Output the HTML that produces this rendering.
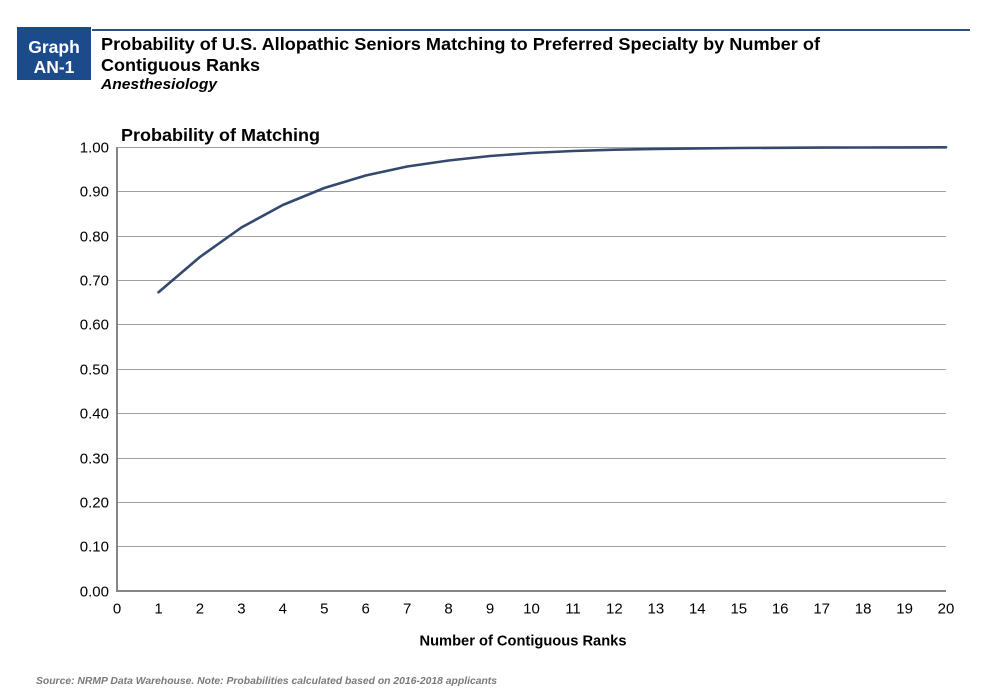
<!DOCTYPE html>
<html>
<head>
<meta charset="utf-8">
<style>
html,body{margin:0;padding:0;background:#fff;}
svg{display:block;}
text{font-family:"Liberation Sans",Arial,sans-serif;}
</style>
</head>
<body>
<svg width="1000" height="690" viewBox="0 0 1000 690" xmlns="http://www.w3.org/2000/svg">
  <rect x="0" y="0" width="1000" height="690" fill="#fff"/>
  <!-- header -->
  <rect x="17" y="27" width="74" height="53" fill="#1c4b8c"/>
  <text x="54" y="53" fill="#fff" font-size="17.5" font-weight="bold" text-anchor="middle">Graph</text>
  <text x="54" y="73" fill="#fff" font-size="17.5" font-weight="bold" text-anchor="middle">AN-1</text>
  <line x1="92" y1="30" x2="970" y2="30" stroke="#2d4f82" stroke-width="2"/>
  <text x="101" y="50" fill="#000" font-size="17.5" font-weight="bold" textLength="719" lengthAdjust="spacingAndGlyphs">Probability of U.S. Allopathic Seniors Matching to Preferred Specialty by Number of</text>
  <text x="101" y="71" fill="#000" font-size="17.5" font-weight="bold" textLength="159" lengthAdjust="spacingAndGlyphs">Contiguous Ranks</text>
  <text x="101" y="89" fill="#000" font-size="15" font-weight="bold" font-style="italic" textLength="116" lengthAdjust="spacingAndGlyphs">Anesthesiology</text>

  <text x="121" y="141" fill="#000" font-size="17.5" font-weight="bold" textLength="199" lengthAdjust="spacingAndGlyphs">Probability of Matching</text>

  <!-- gridlines -->
  <g stroke="#a0a0a0" stroke-width="1">
    <line x1="117" y1="147.5" x2="946" y2="147.5"/>
    <line x1="117" y1="191.5" x2="946" y2="191.5"/>
    <line x1="117" y1="236.5" x2="946" y2="236.5"/>
    <line x1="117" y1="280.5" x2="946" y2="280.5"/>
    <line x1="117" y1="324.5" x2="946" y2="324.5"/>
    <line x1="117" y1="369.5" x2="946" y2="369.5"/>
    <line x1="117" y1="413.5" x2="946" y2="413.5"/>
    <line x1="117" y1="458.5" x2="946" y2="458.5"/>
    <line x1="117" y1="502.5" x2="946" y2="502.5"/>
    <line x1="117" y1="546.5" x2="946" y2="546.5"/>
  </g>
  <!-- axes -->
  <line x1="117" y1="147" x2="117" y2="592" stroke="#858585" stroke-width="2"/>
  <line x1="116" y1="591" x2="946" y2="591" stroke="#858585" stroke-width="2"/>

  <!-- y tick labels -->
  <g font-size="15" fill="#000" text-anchor="end">
    <text x="109" y="152.5">1.00</text>
    <text x="109" y="196.5">0.90</text>
    <text x="109" y="241.5">0.80</text>
    <text x="109" y="285.5">0.70</text>
    <text x="109" y="329.5">0.60</text>
    <text x="109" y="374.5">0.50</text>
    <text x="109" y="418.5">0.40</text>
    <text x="109" y="463.5">0.30</text>
    <text x="109" y="507.5">0.20</text>
    <text x="109" y="551.5">0.10</text>
    <text x="109" y="596.5">0.00</text>
  </g>
  <!-- x tick labels -->
  <g font-size="15" fill="#000" text-anchor="middle">
    <text x="117" y="613.5">0</text>
    <text x="158.5" y="613.5">1</text>
    <text x="199.9" y="613.5">2</text>
    <text x="241.4" y="613.5">3</text>
    <text x="282.8" y="613.5">4</text>
    <text x="324.3" y="613.5">5</text>
    <text x="365.7" y="613.5">6</text>
    <text x="407.2" y="613.5">7</text>
    <text x="448.6" y="613.5">8</text>
    <text x="490.1" y="613.5">9</text>
    <text x="531.5" y="613.5">10</text>
    <text x="573" y="613.5">11</text>
    <text x="614.4" y="613.5">12</text>
    <text x="655.9" y="613.5">13</text>
    <text x="697.3" y="613.5">14</text>
    <text x="738.8" y="613.5">15</text>
    <text x="780.2" y="613.5">16</text>
    <text x="821.7" y="613.5">17</text>
    <text x="863.1" y="613.5">18</text>
    <text x="904.6" y="613.5">19</text>
    <text x="946" y="613.5">20</text>
  </g>
  <text x="523" y="645.5" font-size="14.5" font-weight="bold" fill="#000" text-anchor="middle" textLength="207" lengthAdjust="spacingAndGlyphs">Number of Contiguous Ranks</text>

  <!-- series -->
  <polyline fill="none" stroke="#34496e" stroke-width="2.6" stroke-linejoin="round" stroke-linecap="round"
    points="158.5,292.3 199.9,257 241.4,227.5 282.8,205 324.3,188 365.7,175.5 407.2,166.5 448.6,160.5 490.1,156 531.5,153 573,151 614.4,149.7 655.9,148.9 697.3,148.4 738.8,148 780.2,147.8 821.7,147.6 863.1,147.5 904.6,147.4 946,147.3"/>

  <text x="36" y="684" font-size="10" font-weight="bold" font-style="italic" fill="#7a7a7a" textLength="461" lengthAdjust="spacingAndGlyphs">Source: NRMP Data Warehouse. Note: Probabilities calculated based on 2016-2018 applicants</text>
</svg>
</body>
</html>
